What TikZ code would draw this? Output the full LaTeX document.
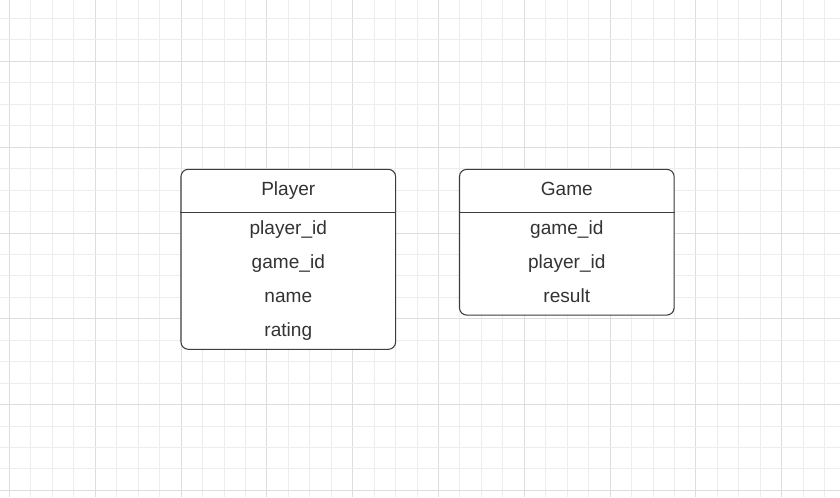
\documentclass[tikz,border=0pt]{standalone}
\usepackage{fontspec}
\setmainfont{Liberation Sans}
\usetikzlibrary{positioning}
\definecolor{txt}{HTML}{333333}
\definecolor{edge}{HTML}{3C3C3C}
\definecolor{minorgrid}{HTML}{EDEDED}
\definecolor{majorgrid}{HTML}{DDDDDD}

\begin{document}
\begin{tikzpicture}[x=0.75pt, y=-0.75pt, every node/.style={font=\fontsize{14.3}{17}\selectfont, text=txt}]
\tikzstyle{table} = [rectangle, rounded corners=5.5pt, draw=edge, line width=0.8pt, fill=white, inner sep=0, minimum width=161pt]
\tikzstyle{field} = [anchor=base, inner sep=0]

\useasboundingbox (0,0) rectangle (840,497);
\fill[white] (0,0) rectangle (840,497);

% background grid
\foreach \k in {0,...,38} {
  \pgfmathsetmacro{\gx}{9.5+21.45*\k}
  \pgfmathtruncatemacro{\major}{mod(\k,4)==0}
  \ifnum\major=1
    \draw[majorgrid, line width=0.75pt] (\gx,0) -- (\gx,497);
  \else
    \draw[minorgrid, line width=0.75pt] (\gx,0) -- (\gx,497);
  \fi
}
\foreach \k in {0,...,22} {
  \pgfmathsetmacro{\gy}{18.5+21.45*\k}
  \pgfmathtruncatemacro{\major}{mod(\k+2,4)==0}
  \ifnum\major=1
    \draw[majorgrid, line width=0.75pt] (0,\gy) -- (840,\gy);
  \else
    \draw[minorgrid, line width=0.75pt] (0,\gy) -- (840,\gy);
  \fi
}

% tables
\node[table, minimum height=135pt] (player) at (288.3,259.3) {};
\node[table, minimum height=109.3pt] (game) at (566.8,242.2) {};

\coordinate (psep) at (288.3,212);
\coordinate (gsep) at (566.8,212);
\draw[edge, line width=0.7pt] (player.west |- psep) -- (player.east |- psep);
\draw[edge, line width=0.7pt] (game.west |- gsep) -- (game.east |- gsep);

\node[field] (ptitle) at (288.3,195.5) {Player};
\node[field] (pid) at (288.3,234) {player\_id};
\node[field] (pgame) at (288.3,268.2) {game\_id};
\node[field] (pname) at (288.3,302.4) {name};
\node[field] (prating) at (288.3,336.4) {rating};

\node[field] (gtitle) at (566.8,195.5) {Game};
\node[field] (gid) at (566.8,234) {game\_id};
\node[field] (gplayer) at (566.8,268.2) {player\_id};
\node[field] (gresult) at (566.8,302.4) {result};

\end{tikzpicture}
\end{document}
